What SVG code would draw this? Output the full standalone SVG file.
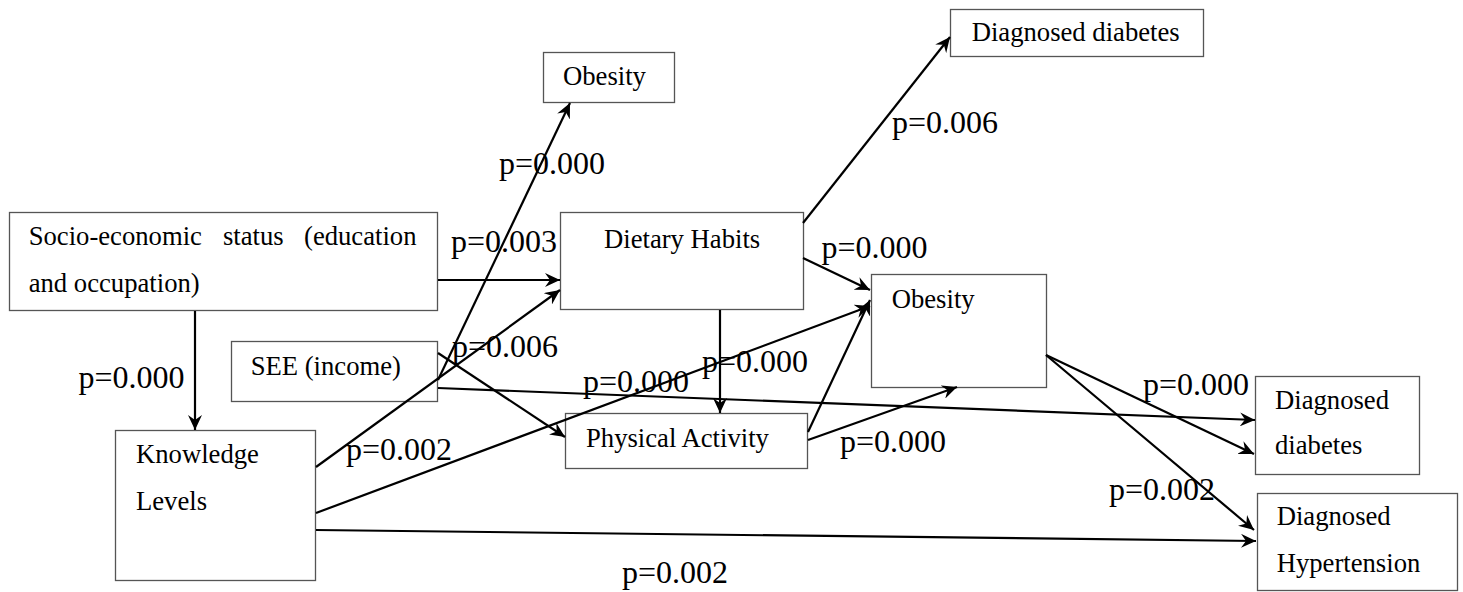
<svg xmlns="http://www.w3.org/2000/svg" width="1463" height="592" viewBox="0 0 1463 592">
<style>
.box{fill:#fff;stroke:#555;stroke-width:1.3}
.nt{font-size:26.67px;fill:#000}
.pl{font-size:32px;fill:#000}
.c{stroke:#000;stroke-width:2.2;fill:none;marker-end:url(#ah)}
</style>
<defs>
<marker id="ah" markerWidth="16" markerHeight="14" refX="15" refY="7" orient="auto" markerUnits="userSpaceOnUse">
<path d="M0,0 L15,7 L0,14 L5,7 Z" fill="#000"/>
</marker>
</defs>
<rect width="1463" height="592" fill="#fff"/>
<g font-family="'Liberation Serif', 'Times New Roman', serif">
<g id="socio">
<rect class="box" x="9.5" y="212.5" width="428" height="98"/>
<text class="nt" x="28.7" y="245">Socio-economic</text>
<text class="nt" x="223" y="245">status</text>
<text class="nt" x="304" y="245">(education</text>
<text class="nt" x="28.7" y="291.5">and occupation)</text>
</g>
<g id="see">
<rect class="box" x="231.5" y="341.5" width="206" height="60"/>
<text class="nt" x="250.7" y="375">SEE (income)</text>
</g>
<g id="knowledge">
<rect class="box" x="115.5" y="430.5" width="200" height="150"/>
<text class="nt" x="136" y="463">Knowledge</text>
<text class="nt" x="136" y="510">Levels</text>
</g>
<g id="obesity-top">
<rect class="box" x="543.5" y="52.5" width="131" height="50"/>
<text class="nt" x="563" y="85">Obesity</text>
</g>
<g id="dietary">
<rect class="box" x="560.5" y="212.5" width="243" height="97"/>
<text class="nt" x="604" y="248.3">Dietary Habits</text>
</g>
<g id="physical">
<rect class="box" x="565.5" y="413.5" width="242" height="55"/>
<text class="nt" x="586" y="446.7">Physical Activity</text>
</g>
<g id="diabetes-top">
<rect class="box" x="950.5" y="9.5" width="253" height="47"/>
<text class="nt" x="971.7" y="40.7">Diagnosed diabetes</text>
</g>
<g id="obesity-mid">
<rect class="box" x="871.5" y="274.5" width="175" height="113"/>
<text class="nt" x="891.7" y="308.3">Obesity</text>
</g>
<g id="diabetes-right">
<rect class="box" x="1255.5" y="376.5" width="164" height="98"/>
<text class="nt" x="1275" y="409.3">Diagnosed</text>
<text class="nt" x="1275" y="454">diabetes</text>
</g>
<g id="hypertension">
<rect class="box" x="1257.5" y="493.5" width="200" height="97"/>
<text class="nt" x="1276.7" y="525">Diagnosed</text>
<text class="nt" x="1276.7" y="571.7">Hypertension</text>
</g>
<g id="connectors">
<line class="c" x1="195" y1="311" x2="195" y2="430"/>
<line class="c" x1="438" y1="280" x2="560" y2="280"/>
<line class="c" x1="316" y1="467" x2="560" y2="290"/>
<line class="c" x1="438" y1="380" x2="570" y2="103"/>
<line class="c" x1="438" y1="353" x2="565" y2="437"/>
<line class="c" x1="438" y1="388" x2="1255" y2="420"/>
<line class="c" x1="316" y1="513" x2="870" y2="306"/>
<line class="c" x1="316" y1="530" x2="1256" y2="541"/>
<line class="c" x1="803" y1="223" x2="950" y2="37"/>
<line class="c" x1="803" y1="258" x2="870" y2="290"/>
<line class="c" x1="720" y1="310" x2="720" y2="413"/>
<line class="c" x1="808" y1="432" x2="870" y2="300"/>
<line class="c" x1="808" y1="440" x2="957" y2="387"/>
<line class="c" x1="1046" y1="355" x2="1254" y2="454"/>
<line class="c" x1="1046" y1="355" x2="1254" y2="530"/>
</g>
<g id="labels">
<text class="pl" x="78.5" y="388">p=0.000</text>
<text class="pl" x="451" y="252">p=0.003</text>
<text class="pl" x="452" y="357">p=0.006</text>
<text class="pl" x="346" y="460">p=0.002</text>
<text class="pl" x="499" y="174">p=0.000</text>
<text class="pl" x="892" y="133">p=0.006</text>
<text class="pl" x="821.5" y="258">p=0.000</text>
<text class="pl" x="702" y="372">p=0.000</text>
<text class="pl" x="583" y="392">p=0.000</text>
<text class="pl" x="840" y="452">p=0.000</text>
<text class="pl" x="1143" y="395">p=0.000</text>
<text class="pl" x="1109" y="500">p=0.002</text>
<text class="pl" x="622" y="583">p=0.002</text>
</g>
</g>
</svg>
